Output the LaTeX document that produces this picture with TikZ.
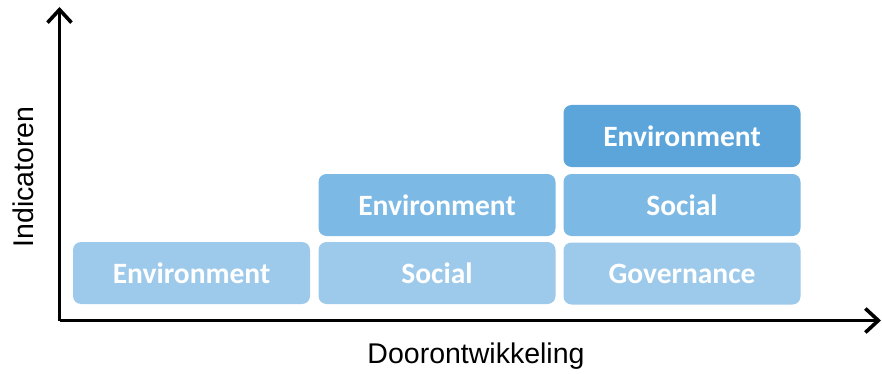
\documentclass[tikz,border=0pt]{standalone}
\usepackage{fontspec}
\setmainfont{Liberation Sans}
\newfontfamily\boxfont{Carlito}
\usetikzlibrary{arrows.meta}

\definecolor{esglight}{HTML}{9DCAEB}
\definecolor{esgmid}{HTML}{7DB9E5}
\definecolor{esgdark}{HTML}{5CA5DB}

\tikzset{
    esgbox/.style={rounded corners=8pt, minimum width=237pt, minimum height=62pt,
        inner sep=0pt, text=white, font=\boxfont\bfseries\fontsize{29.5}{32}\selectfont},
    axis/.style={line width=3.6pt, -{Straight Barb[length=13pt, width=24pt, line width=3.6pt]}},
    axislabel/.style={font=\fontsize{28.5}{32}\selectfont}
}

\begin{document}
\begin{tikzpicture}[x=1pt, y=-1pt]
    \useasboundingbox (0,0) rectangle (882,374);
    % Axes
    \coordinate (origin) at (59.5,320.5);
    \coordinate (ytop) at (59.5,7);
    \coordinate (xend) at (881,320.5);
    \draw[axis] (origin) -- (ytop);
    \draw[axis] (origin) -- (xend);
    \node[axislabel] (xlabel) at (476,356) {Doorontwikkeling};
    \node[axislabel, rotate=90] (ylabel) at (23,177) {Indicatoren};
    % Stage 1
    \node[esgbox, fill=esglight] (env1) at (191.5,273) {Environment};
    % Stage 2
    \node[esgbox, fill=esglight] (soc2) at (437,273) {Social};
    \node[esgbox, fill=esgmid] (env2) at (437,205) {Environment};
    % Stage 3
    \node[esgbox, fill=esglight] (gov3) at (682,273.5) {Governance};
    \node[esgbox, fill=esgmid] (soc3) at (682,205) {Social};
    \node[esgbox, fill=esgdark] (env3) at (682,136) {Environment};
\end{tikzpicture}
\end{document}
